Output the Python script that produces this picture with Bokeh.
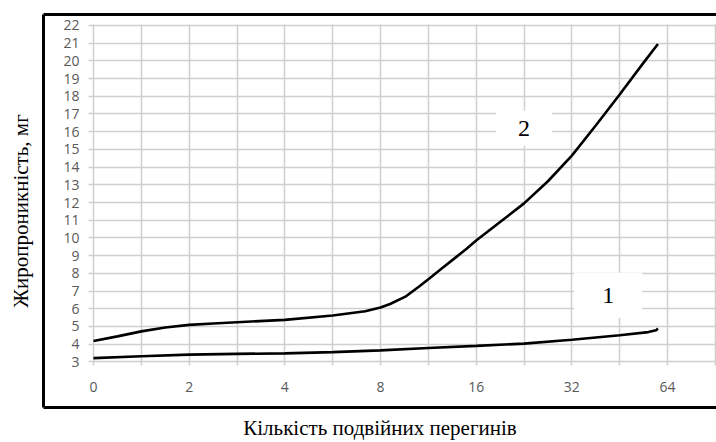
from bokeh.plotting import figure
from bokeh.models import FixedTicker, Label, Range1d, LinearAxis, ColumnDataSource
from bokeh.core.properties import value
from bokeh.embed import file_html
from bokeh.resources import INLINE

# ---- data ----
x_labels = ["0", "2", "4", "8", "16", "32", "64"]
x_positions = [0, 1, 2, 3, 4, 5, 6]
x_minor = [0.5, 1.5, 2.5, 3.5, 4.5, 5.5, 6.5]
y_ticks = list(range(3, 23))
y_labels = [str(v) for v in y_ticks]

curve2_x = [0, 0.25, 0.5, 0.75, 1, 1.25, 1.5, 2, 2.5, 2.84, 3, 3.1, 3.26, 3.4, 3.51, 3.64, 3.77, 3.9,
            4, 4.25, 4.5, 4.75, 5, 5.25, 5.5, 5.75, 5.9]
curve2_y = [4.18, 4.44, 4.72, 4.94, 5.09, 5.17, 5.24, 5.37, 5.62, 5.86, 6.07, 6.27, 6.68, 7.24, 7.71, 8.27, 8.83, 9.39,
            9.85, 10.9, 11.95, 13.2, 14.65, 16.35, 18.1, 19.9, 20.95]

curve1_x = [0, 0.5, 1, 1.5, 2, 2.5, 3, 3.5, 4, 4.5, 5, 5.5, 5.8, 5.88, 5.9]
curve1_y = [3.21, 3.32, 3.41, 3.45, 3.48, 3.55, 3.65, 3.78, 3.9, 4.03, 4.25, 4.5, 4.68, 4.78, 4.88]

x_title = "Кількість подвійних перегинів"
y_title = "Жиропроникність, мг"

X0, X1 = -0.5226, 6.512      # frame = outer black box
Y0, Y1 = 0.4215, 22.619
GX0, GY0, GY1 = -0.0523, 2.776, 22.056   # extent of the grid

p = figure(width=716, height=442, output_backend="svg", toolbar_location=None,
           title=None, x_axis_location=None, y_axis_location=None,
           x_range=Range1d(X0, X1), y_range=Range1d(Y0, Y1),
           min_border_left=43, min_border_right=0, min_border_top=14, min_border_bottom=32)
p.outline_line_color = None
p.background_fill_color = "white"
p.border_fill_color = "white"

tick_color = "#595959"
grid_color = "#cfcfcf"
serif = "Liberation Serif"


def frame_axis(label="", standoff=0):
    ax = LinearAxis(ticker=FixedTicker(ticks=[]), axis_line_color="black", axis_line_width=3,
                    major_tick_line_color=None, minor_tick_line_color=None,
                    major_tick_in=0, major_tick_out=0, minor_tick_in=0, minor_tick_out=0,
                    major_label_standoff=0, axis_label=label, axis_label_standoff=standoff,
                    axis_label_text_font=serif, axis_label_text_font_style="normal",
                    axis_label_text_font_size="21px", axis_label_text_color="black")
    return ax


p.add_layout(frame_axis(y_title, 11), "left")
p.add_layout(frame_axis(x_title, 8), "below")
p.add_layout(frame_axis(), "above")

# grid
xt = FixedTicker(ticks=x_positions, minor_ticks=x_minor)
p.xgrid.ticker = xt
p.xgrid.grid_line_color = grid_color
p.xgrid.minor_grid_line_color = grid_color
p.xgrid.grid_line_width = 1.5
p.xgrid.minor_grid_line_width = 1.5
p.xgrid.cross_bounds = (GY0, GY1)
p.ygrid.ticker = FixedTicker(ticks=y_ticks)
p.ygrid.grid_line_color = grid_color
p.ygrid.grid_line_width = 1.5
p.ygrid.cross_bounds = (GX0, X1)

# tick labels (inside the boxed area)
ysrc = ColumnDataSource(dict(x=[-0.146] * len(y_ticks), y=y_ticks, t=y_labels))
p.text("x", "y", text="t", source=ysrc, text_align="right", text_baseline="middle",
       text_font=value("Open Sans"), text_font_size="14px", text_color=tick_color)
xsrc = ColumnDataSource(dict(x=x_positions, y=[1.6] * len(x_positions), t=x_labels))
p.text("x", "y", text="t", source=xsrc, text_align="center", text_baseline="middle",
       text_font=value("Open Sans"), text_font_size="14px", text_color=tick_color)

p.line(curve2_x, curve2_y, line_color="black", line_width=2.6)
p.line(curve1_x, curve1_y, line_color="black", line_width=2.6)

for txt, lx, ly, pad in (("2", 4.5, 16.2, dict(left=22, right=22, top=10, bottom=10)),
                         ("1", 5.38, 6.76, dict(left=28, right=28, top=15, bottom=15))):
    p.add_layout(Label(x=lx, y=ly, text=txt, text_align="center", text_baseline="middle",
                       text_font=serif, text_font_size="24px", text_color="black",
                       background_fill_color="white", padding=pad))

open("out.html", "w").write(file_html(p, INLINE))
